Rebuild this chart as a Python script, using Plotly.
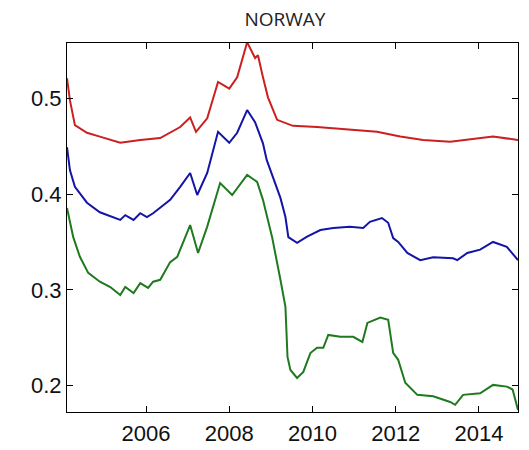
import plotly.graph_objects as go

# Red series (top)
red_t = [2004.10, 2004.17, 2004.29, 2004.58, 2004.89, 2005.38, 2005.86, 2006.34,
         2006.82, 2007.06, 2007.20, 2007.47, 2007.73, 2008.00, 2008.19, 2008.43,
         2008.62, 2008.69, 2008.81, 2008.93, 2009.15, 2009.53, 2010.11, 2010.90,
         2011.55, 2012.11, 2012.66, 2013.31, 2013.72, 2014.34, 2014.94]
red_v = [0.521, 0.498, 0.472, 0.464, 0.460, 0.4535, 0.4565, 0.4585,
         0.470, 0.480, 0.465, 0.479, 0.517, 0.510, 0.522, 0.5585,
         0.542, 0.545, 0.522, 0.501, 0.4775, 0.4712, 0.470, 0.467,
         0.465, 0.460, 0.4565, 0.4545, 0.4565, 0.460, 0.4565]

# Blue series (middle)
blue_t = [2004.10, 2004.17, 2004.29, 2004.58, 2004.89, 2005.38, 2005.50, 2005.70,
          2005.86, 2006.02, 2006.17, 2006.34, 2006.58, 2006.82, 2007.06, 2007.23,
          2007.47, 2007.73, 2008.00, 2008.19, 2008.43, 2008.62, 2008.81, 2008.90,
          2009.05, 2009.23, 2009.35, 2009.42, 2009.63, 2009.87, 2010.19, 2010.50,
          2010.90, 2011.22, 2011.38, 2011.67, 2011.82, 2011.94, 2012.06, 2012.28,
          2012.59, 2012.90, 2013.38, 2013.48, 2013.72, 2014.03, 2014.34, 2014.67,
          2014.94]
blue_v = [0.449, 0.425, 0.4075, 0.391, 0.381, 0.373, 0.378, 0.373,
          0.380, 0.376, 0.380, 0.3855, 0.394, 0.4075, 0.422, 0.399,
          0.422, 0.465, 0.4535, 0.464, 0.4877, 0.475, 0.453, 0.4356,
          0.418, 0.396, 0.376, 0.355, 0.349, 0.3555, 0.3625, 0.3646,
          0.366, 0.3646, 0.371, 0.375, 0.370, 0.354, 0.350, 0.3385,
          0.331, 0.334, 0.333, 0.331, 0.3385, 0.342, 0.350, 0.345,
          0.331]

# Green series (bottom)
green_t = [2004.10, 2004.25, 2004.41, 2004.61, 2004.89, 2005.14, 2005.38, 2005.50,
           2005.70, 2005.86, 2006.05, 2006.17, 2006.34, 2006.58, 2006.75, 2007.06,
           2007.25, 2007.47, 2007.78, 2008.07, 2008.43, 2008.67, 2008.81, 2009.03,
           2009.23, 2009.30, 2009.35, 2009.40, 2009.47, 2009.63, 2009.78, 2009.95,
           2010.11, 2010.26, 2010.38, 2010.67, 2010.98, 2011.20, 2011.32, 2011.63,
           2011.82, 2011.94, 2012.06, 2012.23, 2012.52, 2012.90, 2013.31, 2013.43,
           2013.62, 2014.03, 2014.34, 2014.67, 2014.81, 2014.94]
green_v = [0.3855, 0.355, 0.3345, 0.3177, 0.3085, 0.303, 0.2947, 0.303,
           0.2967, 0.307, 0.302, 0.3085, 0.3105, 0.329, 0.3345, 0.3677,
           0.3385, 0.366, 0.4115, 0.399, 0.420, 0.4127, 0.394, 0.355,
           0.3105, 0.293, 0.2823, 0.230, 0.2164, 0.208, 0.2144, 0.234,
           0.2395, 0.2395, 0.253, 0.251, 0.251, 0.2457, 0.2655, 0.271,
           0.2687, 0.2342, 0.227, 0.203, 0.1904, 0.189, 0.183, 0.180,
           0.1904, 0.192, 0.2008, 0.199, 0.196, 0.1747]

x_ticks = [2006, 2008, 2010, 2012, 2014]
y_ticks = [0.2, 0.3, 0.4, 0.5]

fig = go.Figure()
for t, v, c in [(red_t, red_v, "#cc1f1f"),
                (blue_t, blue_v, "#1414a6"),
                (green_t, green_v, "#1f7a1f")]:
    fig.add_trace(go.Scatter(x=t, y=v, mode="lines",
                             line=dict(color=c, width=2),
                             showlegend=False, hoverinfo="skip"))

axis_common = dict(showgrid=False, zeroline=False, showline=True,
                   linecolor="black", linewidth=1, mirror="ticks",
                   ticks="inside", ticklen=6, tickcolor="black",
                   automargin=False,
                   tickfont=dict(family="Liberation Sans, Arial", size=22,
                                 color="#111111"))

fig.update_xaxes(range=[2004.10, 2014.94], tickvals=x_ticks,
                 ticktext=[str(v) for v in x_ticks],
                 ticklabelstandoff=2, **axis_common)
fig.update_yaxes(range=[0.1725, 0.5577], tickvals=y_ticks,
                 ticktext=[f"{v:.1f}" for v in y_ticks], **axis_common)

fig.update_layout(
    width=529, height=450,
    margin=dict(l=67, r=11, t=43, b=38),
    paper_bgcolor="white", plot_bgcolor="white",
    title=dict(text="NORWAY", x=285 / 529, xanchor="center",
               y=1 - 19 / 450, yanchor="middle",
               font=dict(family="Open Sans, Noto Sans", size=19,
                         color="#222222")),
)

fig.write_html("out.html")
